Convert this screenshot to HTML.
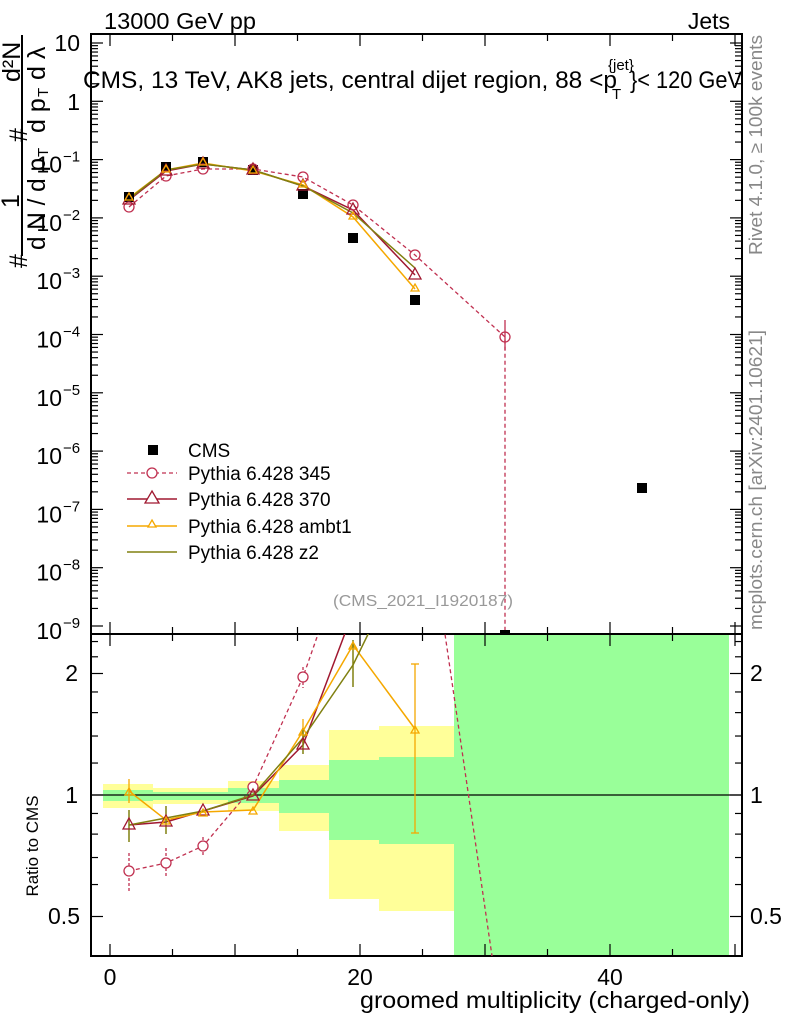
<!DOCTYPE html>
<html><head><meta charset="utf-8"><style>
body{margin:0;background:#fff;}
svg{display:block;font-family:"Liberation Sans",sans-serif;}
</style></head><body>
<svg id="s" width="786" height="1024" viewBox="0 0 786 1024" xmlns="http://www.w3.org/2000/svg">
<rect width="786" height="1024" fill="#fff"/>
<g>
<rect x="103" y="784" width="50" height="24" fill="#ffff99"/>
<rect x="153" y="788" width="75" height="16" fill="#ffff99"/>
<rect x="228" y="781" width="51" height="30" fill="#ffff99"/>
<rect x="279" y="765" width="50" height="66" fill="#ffff99"/>
<rect x="329" y="730" width="50" height="169" fill="#ffff99"/>
<rect x="379" y="726" width="75" height="185" fill="#ffff99"/>
<rect x="103" y="790" width="50" height="11" fill="#99ff99"/>
<rect x="153" y="792" width="75" height="8" fill="#99ff99"/>
<rect x="228" y="788" width="51" height="15" fill="#99ff99"/>
<rect x="279" y="780" width="50" height="33" fill="#99ff99"/>
<rect x="329" y="760" width="50" height="80" fill="#99ff99"/>
<rect x="379" y="757" width="75" height="87" fill="#99ff99"/>
<rect x="454" y="634" width="275" height="322" fill="#99ff99"/>
</g>
<line x1="91" y1="795" x2="742" y2="795" stroke="#000" stroke-width="1.2"/>
<g id="ticks" stroke="#000" stroke-width="1.2"></g>

<rect x="91" y="34" width="651" height="600" fill="none" stroke="#000" stroke-width="2"/>
<rect x="91" y="634" width="651" height="322" fill="none" stroke="#000" stroke-width="2"/>

<defs>
<clipPath id="ct"><rect x="91" y="34" width="651" height="600"/></clipPath>
<clipPath id="cb"><rect x="91" y="634" width="651" height="322"/></clipPath>
</defs>
<g clip-path="url(#ct)">
<polyline points="129,207 166,176 203,169 253,169 303,177 353,205 415,255 505,337 505,640" fill="none" stroke="#c03050" stroke-width="1.3" stroke-dasharray="4,3"/>
<line x1="505" y1="320" x2="505" y2="350" stroke="#c03050" stroke-width="1.3"/>
<polyline points="129,200 166,171 203,164 253,170 303,186 353,210 415,275" fill="none" stroke="#a01830" stroke-width="1.5"/>
<polyline points="129,198 166,170 203,163 253,171 303,185 353,217 415,289" fill="none" stroke="#f5a800" stroke-width="1.5"/>
<polyline points="129,199 166,170 203,164 253,170 303,186 353,213 415,268" fill="none" stroke="#808010" stroke-width="1.5"/>
<g fill="#000">
<rect x="124" y="192" width="10" height="10"/><rect x="161" y="162" width="10" height="10"/>
<rect x="198" y="157" width="10" height="10"/><rect x="248" y="165" width="10" height="10"/>
<rect x="298" y="189" width="10" height="10"/><rect x="348" y="233" width="10" height="10"/>
<rect x="410" y="295" width="10" height="10"/><rect x="500" y="630" width="10" height="10"/>
<rect x="637" y="483" width="10" height="10"/>
</g>
<g fill="none" stroke="#c03050" stroke-width="1.3">
<circle cx="129" cy="207" r="5"/><circle cx="166" cy="176" r="5"/><circle cx="203" cy="169" r="5"/>
<circle cx="253" cy="169" r="5"/><circle cx="303" cy="177" r="5"/><circle cx="353" cy="205" r="5"/>
<circle cx="415" cy="255" r="5"/><circle cx="505" cy="337" r="5"/>
</g>
<g fill="none" stroke="#a01830" stroke-width="1.3">
<path d="M129,193l6,11h-12z"/><path d="M166,164l6,11h-12z"/><path d="M203,157l6,11h-12z"/>
<path d="M253,163l6,11h-12z"/><path d="M303,179l6,11h-12z"/><path d="M353,203l6,11h-12z"/><path d="M415,268l6,11h-12z"/>
</g>
<g fill="none" stroke="#f5a800" stroke-width="1.3">
<path d="M129,193l4,7h-8z"/><path d="M166,165l4,7h-8z"/><path d="M203,158l4,7h-8z"/>
<path d="M253,166l4,7h-8z"/><path d="M303,180l4,7h-8z"/><path d="M353,212l4,7h-8z"/><path d="M415,284l4,7h-8z"/>
</g>
</g>

<g clip-path="url(#cb)">
<polyline points="129,871 166,863 203,846 253,787 303,677 330,600" fill="none" stroke="#c03050" stroke-width="1.3" stroke-dasharray="4,3"/>
<polyline points="440,600 492,956" fill="none" stroke="#c03050" stroke-width="1.3" stroke-dasharray="4,3"/>
<polyline points="129,825 166,822 203,811 253,796 303,745 350,620" fill="none" stroke="#a01830" stroke-width="1.5"/>
<polyline points="129,791 166,820 203,812 253,810 303,731 353,645 415,729" fill="none" stroke="#f5a800" stroke-width="1.5"/>
<polyline points="129,825 166,818 203,811 253,795 303,738 353,665 375,620" fill="none" stroke="#808010" stroke-width="1.5"/>
<g stroke="#c03050" stroke-width="1.3" stroke-dasharray="3,2">
<line x1="129" y1="853" x2="129" y2="892"/><line x1="166" y1="848" x2="166" y2="878"/>
<line x1="203" y1="837" x2="203" y2="855"/><line x1="303" y1="667" x2="303" y2="688"/>
</g>
<g stroke="#f5a800" stroke-width="1.3">
<line x1="129" y1="779" x2="129" y2="803"/><line x1="415" y1="664" x2="415" y2="833"/>
<line x1="411" y1="664" x2="419" y2="664"/><line x1="411" y1="833" x2="419" y2="833"/>
<line x1="303" y1="719" x2="303" y2="743"/>
</g>
<g stroke="#808010" stroke-width="1.5">
<line x1="129" y1="810" x2="129" y2="842"/><line x1="166" y1="806" x2="166" y2="834"/>
<line x1="353" y1="640" x2="353" y2="687"/><line x1="303" y1="728" x2="303" y2="754"/>
</g>
<g fill="#fff" stroke="#c03050" stroke-width="1.3">
<circle cx="129" cy="871" r="5"/><circle cx="166" cy="863" r="5"/><circle cx="203" cy="846" r="5"/>
<circle cx="253" cy="787" r="5"/><circle cx="303" cy="677" r="5"/>
</g>
<g fill="none" stroke="#a01830" stroke-width="1.3">
<path d="M129,818l6,11h-12z"/><path d="M166,815l6,11h-12z"/><path d="M203,804l6,11h-12z"/>
<path d="M253,789l6,11h-12z"/><path d="M303,738l6,11h-12z"/>
</g>
<g fill="none" stroke="#f5a800" stroke-width="1.3">
<path d="M129,788l4,7h-8z"/><path d="M166,817l4,7h-8z"/><path d="M203,809l4,7h-8z"/>
<path d="M253,807l4,7h-8z"/><path d="M303,728l4,7h-8z"/><path d="M353,642l4,7h-8z"/><path d="M415,726l4,7h-8z"/>
</g>
</g>

<!-- labels -->
<text x="104" y="29" font-size="23" textLength="152" lengthAdjust="spacingAndGlyphs">13000 GeV pp</text>
<text x="730" y="29" font-size="23" text-anchor="end">Jets</text>
<text x="83" y="88" font-size="24" textLength="534" lengthAdjust="spacingAndGlyphs">CMS, 13 TeV, AK8 jets, central dijet region, 88 &lt;p</text>
<text x="608" y="70" font-size="15">{jet}</text>
<text x="612" y="99" font-size="15">T</text>
<text x="630" y="88" font-size="24" textLength="112" lengthAdjust="spacingAndGlyphs">}&lt; 120 GeV</text>
<g font-size="23" text-anchor="end">
<text x="80" y="51">10</text><text x="80" y="110">1</text>
</g>
<g id="ylab"></g>
<g font-size="23">
<text x="78" y="681" text-anchor="end">2</text><text x="78" y="803" text-anchor="end">1</text>
<text x="80" y="924" text-anchor="end">0.5</text>
<text x="750" y="681">2</text><text x="750" y="803">1</text><text x="750" y="924">0.5</text>
<text x="110" y="985" text-anchor="middle">0</text><text x="360" y="985" text-anchor="middle">20</text>
<text x="610" y="985" text-anchor="middle">40</text>
<text x="360" y="1008" textLength="390" lengthAdjust="spacingAndGlyphs">groomed multiplicity (charged-only)</text>
</g>
<text transform="translate(38,846) rotate(-90)" font-size="17" text-anchor="middle">Ratio to CMS</text>
<g font-size="25">
<text transform="translate(27,268) rotate(-90)">#</text>
<text transform="translate(19,208) rotate(-90)">1</text>
<line x1="22" y1="35" x2="22" y2="256" stroke="#000" stroke-width="2"/>
<text transform="translate(45,250) rotate(-90)" textLength="92" lengthAdjust="spacingAndGlyphs">d N / d p</text>
<text transform="translate(48,157) rotate(-90)" font-size="15">T</text>
<text transform="translate(27,142) rotate(-90)">#</text>
<text transform="translate(20,82) rotate(-90)">d²N</text>
<text transform="translate(45,133) rotate(-90)">d p</text>
<text transform="translate(48,97) rotate(-90)" font-size="15">T</text>
<text transform="translate(45,80) rotate(-90)">d λ</text>
</g>
<text transform="translate(762,255) rotate(-90)" font-size="18" fill="#888" textLength="220" lengthAdjust="spacingAndGlyphs">Rivet 4.1.0, ≥ 100k events</text>
<text transform="translate(762,630) rotate(-90)" font-size="18" fill="#888" textLength="300" lengthAdjust="spacingAndGlyphs">mcplots.cern.ch [arXiv:2401.10621]</text>
<text x="423" y="606" font-size="16" fill="#999" text-anchor="middle" textLength="180" lengthAdjust="spacingAndGlyphs">(CMS_2021_I1920187)</text>
<g font-size="19">
<rect x="148" y="445" width="10" height="10"/><text x="188" y="457">CMS</text>
<line x1="127" y1="473" x2="177" y2="473" stroke="#c03050" stroke-width="1.3" stroke-dasharray="4,3"/>
<circle cx="152" cy="473" r="5" fill="#fff" stroke="#c03050" stroke-width="1.3"/><text x="188" y="480">Pythia 6.428 345</text>
<line x1="127" y1="499" x2="177" y2="499" stroke="#a01830" stroke-width="1.5"/>
<path d="M152,491l7,12h-14z" fill="#fff" stroke="#a01830" stroke-width="1.3"/><text x="188" y="506">Pythia 6.428 370</text>
<line x1="127" y1="526" x2="177" y2="526" stroke="#f5a800" stroke-width="1.5"/>
<path d="M152,520l4,7h-8z" fill="#fff" stroke="#f5a800" stroke-width="1.3"/><text x="188" y="533">Pythia 6.428 ambt1</text>
<line x1="127" y1="552" x2="177" y2="552" stroke="#808010" stroke-width="1.5"/>
<text x="188" y="559">Pythia 6.428 z2</text>
</g>
</svg>
<script>
var g=document.getElementById('ticks'),h='';
function L(a,b,c,d){h+='<line x1="'+a+'" y1="'+b+'" x2="'+c+'" y2="'+d+'"/>';}
for(var d=0;d<11;d++){var y0=43+d*58.3;L(91,y0,103,y0);L(742,y0,730,y0);
 if(d<10)for(var k=2;k<10;k++){var y=y0+58.3-58.3*Math.log10(k);L(91,y,98,y);L(742,y,735,y);}}
for(var x=0;x<=50;x+=5){var px=110+x*12.5,l=(x%10==0)?12:7;L(px,34,px,34+l);L(px,634,px,634-l);L(px,634,px,634+l);L(px,956,px,956-l);}
[0.4,0.5,0.6,0.7,0.8,0.9,1,2].forEach(function(r){var y=795-121.5*Math.log2(r);var l=(r==1||r==2||r==0.5)?12:7;L(91,y,91+l,y);L(742,y,742-l,y);});
[1.2,1.4,1.6,1.8,2.2,2.4].forEach(function(r){var y=795-121.5*Math.log2(r);L(91,y,98,y);L(742,y,735,y);});
g.innerHTML=h;
var t='';
for(var d=2;d<=10;d++){var y=43+d*58.3;t+='<text x="62" y="'+(y+13)+'" font-size="23" text-anchor="end">10</text><text x="63" y="'+(y+2)+'" font-size="15">\u2212'+(d-1)+'</text>';}
document.getElementById('ylab').innerHTML=t;
</script>
</body></html>
